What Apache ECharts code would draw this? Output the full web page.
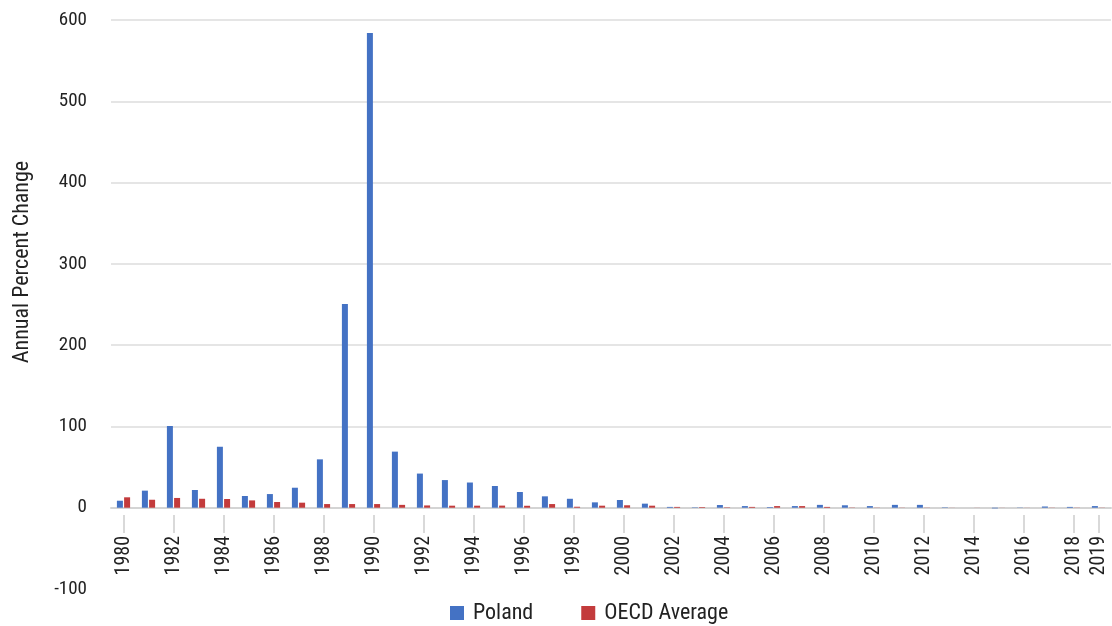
<!DOCTYPE html>
<html>
<head>
<meta charset="utf-8">
<script src="https://cdn.jsdelivr.net/npm/echarts@6/dist/echarts.min.js"></script>
<style>
  html, body { margin: 0; padding: 0; background: #fff; }
  #chart { width: 1112px; height: 626px; }
</style>
</head>
<body>
<div id="chart"></div>
<script>
var years = [];
for (var y = 1980; y <= 2019; y++) { years.push(String(y)); }

// Poland, annual percent change
var poland = [
    8.6, 21, 100.5, 21.8, 75, 14.4, 16.8, 24.6, 59.5, 250.5,
    584, 69, 42, 34, 31, 26.7, 19.3, 14, 11, 6.6,
    9.5, 5, 1, 0.5, 3.3, 2, 0.8, 2, 3.5, 3,
    2, 3.5, 3.5, 0.5, 0, -0.8, -0.3, 1.5, 1, 2
];

// OECD average, annual percent change
var oecd = [
    12.8, 9.8, 12, 11, 10.7, 9, 7, 6.2, 4.5, 4.5,
    4.5, 3.5, 2.8, 2.5, 2.5, 2.6, 2.4, 4.5, 1.2, 2.5,
    3, 2.5, 1, 0.8, 0.5, 1, 2, 2, 1, 0.3,
    0.2, 0.2, 0.2, 0.1, 0.1, 0.1, 0.1, 0.2, 0.2, 0.2
];

var font = '"Roboto Condensed", Roboto, sans-serif';
var showYear = function (idx) { return idx % 2 === 0 || idx === years.length - 1; };

var myChart = echarts.init(document.getElementById('chart'));

var option = {
    animation: false,
    textStyle: { fontFamily: font },
    grid: { left: 111, right: 1, top: 20, bottom: 37 },
    legend: {
        bottom: -3,
        left: 445,
        itemWidth: 14,
        itemHeight: 14,
        itemGap: 48,
        icon: 'rect',
        textStyle: { fontSize: 22, color: '#222', fontFamily: font, padding: [0, 0, 0, 4] },
        data: ['Poland', 'OECD Average']
    },
    graphic: [{
        type: 'text',
        x: 22,
        y: 262,
        rotation: Math.PI / 2,
        style: {
            text: 'Annual Percent Change',
            fill: '#222',
            font: '22px ' + font,
            textAlign: 'center',
            textVerticalAlign: 'middle'
        }
    }],
    xAxis: [{
        type: 'category',
        data: years,
        axisLine: { onZero: true, lineStyle: { color: '#d4d4d4', width: 2 } },
        axisTick: { show: false },
        axisLabel: { show: false }
    }, {
        type: 'category',
        data: years,
        position: 'bottom',
        offset: -74,
        axisLine: { show: false, onZero: false },
        axisTick: {
            show: true,
            alignWithLabel: true,
            interval: showYear,
            length: 18,
            lineStyle: { color: '#d9d9d9', width: 2 }
        },
        axisLabel: {
            interval: showYear,
            rotate: 90,
            margin: 21,
            fontSize: 20,
            color: '#222',
            fontFamily: font
        }
    }],
    yAxis: {
        type: 'value',
        min: -100,
        max: 600,
        interval: 100,
        axisLine: { show: false },
        axisTick: { show: false },
        axisLabel: { margin: 24, fontSize: 19, color: '#222', fontFamily: font },
        splitLine: {
            lineStyle: {
                color: ['rgba(0,0,0,0)', '#d4d4d4', '#dcdcdc', '#dcdcdc', '#dcdcdc', '#dcdcdc', '#dcdcdc', '#dcdcdc'],
                width: 1.5
            }
        }
    },
    series: [{
        name: 'Poland',
        type: 'bar',
        xAxisIndex: 0,
        data: poland,
        barWidth: 6,
        barGap: '20%',
        itemStyle: { color: '#4472C4' }
    }, {
        name: 'OECD Average',
        type: 'bar',
        xAxisIndex: 0,
        data: oecd,
        barWidth: 6,
        barGap: '20%',
        itemStyle: { color: '#C33B3C' }
    }]
};

myChart.setOption(option);
</script>
</body>
</html>
